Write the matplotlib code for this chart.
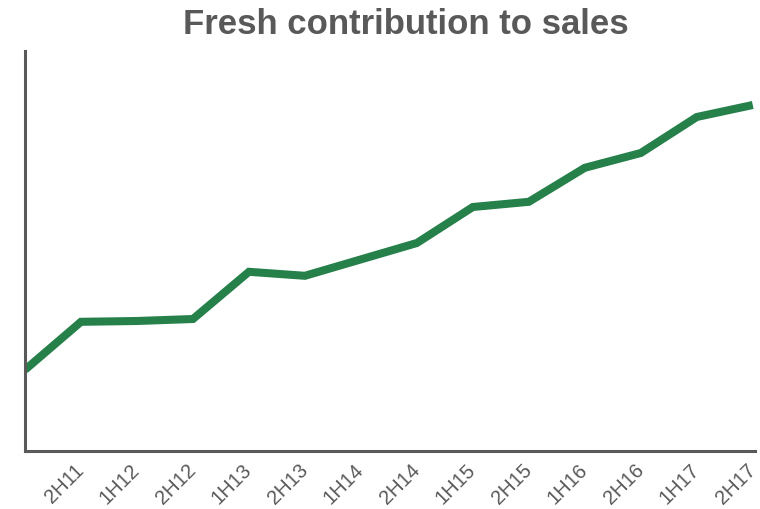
import matplotlib.pyplot as plt

plt.rcParams['font.family'] = ['Liberation Sans', 'DejaVu Sans']

# half-year periods (first one has no label on the axis)
periods = ["1H11", "2H11", "1H12", "2H12", "1H13", "2H13", "1H14",
           "2H14", "1H15", "2H15", "1H16", "2H16", "1H17", "2H17"]
# fresh share of sales (relative scale)
fresh_share = [20.3, 32.3, 32.5, 33.0, 44.8, 43.8, 47.9,
               52.0, 61.0, 62.3, 70.8, 74.5, 83.5, 86.5]

grey = "#595959"
green = "#25804A"

fig = plt.figure(figsize=(7.6, 5.09), dpi=100)
ax = fig.add_axes([25 / 760, 58 / 509, 730 / 760, 400 / 509])

x = list(range(len(periods)))
ax.plot(x, fresh_share, color=green, linewidth=5.8, solid_joinstyle="miter",
        solid_capstyle="butt")

ax.set_xlim(0, len(periods) - 1 + 0.04)
ax.set_ylim(0, 100)

ax.set_xticks(x[1:])
ax.set_xticklabels(periods[1:], rotation=45, ha="right", va="center",
                   rotation_mode="anchor", fontsize=14.5, color=grey)
ax.tick_params(axis="x", length=0, pad=12)
ax.set_yticks([])

for side in ["top", "right"]:
    ax.spines[side].set_visible(False)
for side in ["left", "bottom"]:
    ax.spines[side].set_color(grey)
    ax.spines[side].set_linewidth(2.2)

fig.text(406 / 760, 1 - 25 / 509, "Fresh contribution to sales", ha="center",
         va="center", fontsize=25, fontweight="bold", color=grey)

fig.savefig("out.png", dpi=100)
